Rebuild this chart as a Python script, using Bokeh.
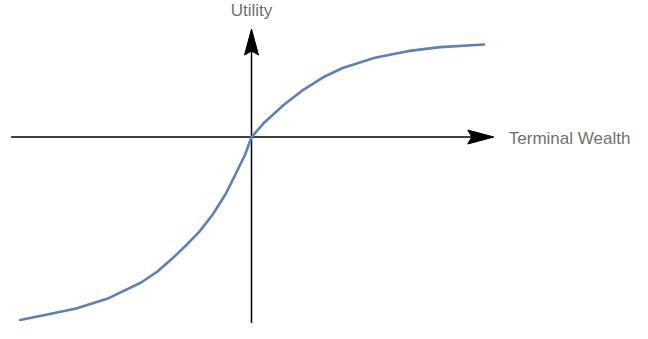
from bokeh.plotting import figure
from bokeh.models import Range1d, Label
from bokeh.embed import file_html
from bokeh.resources import INLINE

# ---- data (wealth, utility) ----
wealth = [-4.942, -4.442, -3.746, -3.052, -2.358, -2.010, -1.663, -1.385, -1.108, -0.829,
          -0.552, -0.344, -0.135, 0.0,
          0.281, 0.698, 1.115, 1.531, 1.948, 2.635, 3.338, 4.031, 4.969]
utility = [-1.968, -1.916, -1.844, -1.733, -1.565, -1.446, -1.293, -1.158, -1.015, -0.834,
           -0.613, -0.403, -0.188, 0.0,
           0.159, 0.349, 0.510, 0.642, 0.742, 0.852, 0.923, 0.966, 0.995]

x_axis_label = "Terminal Wealth"
y_axis_label = "Utility"

# axis extents (data units)
x_axis_start, x_axis_tip = -5.135, 5.177
y_axis_start, y_axis_tip = -2.134, 1.161

# ---- layout ----
FW, FH = 632, 323
OX, OY = 251.0, 136.5     # origin position in figure pixels (from left, from top)
SX, SY = 46.8, 93.0       # pixels per data unit

p = figure(width=FW, height=FH, output_backend="svg", toolbar_location=None,
           x_range=Range1d(-OX / SX, (FW - OX) / SX),
           y_range=Range1d(-(FH - OY) / SY, OY / SY),
           min_border=0, tools="")
p.axis.visible = False
p.grid.visible = False
p.outline_line_color = None
p.background_fill_color = "white"
p.border_fill_color = "white"

AL, AW, AN = 26, 7, 22   # arrow length, half width, notch (pixels)

# horizontal axis
p.line([x_axis_start, x_axis_tip - AN / SX], [0, 0], line_color="black", line_width=1.5)
p.patch([x_axis_tip, x_axis_tip - AL / SX, x_axis_tip - AN / SX, x_axis_tip - AL / SX],
        [0, AW / SY, 0, -AW / SY], fill_color="black", line_color="black", line_width=1)
# vertical axis
p.line([0, 0], [y_axis_start, y_axis_tip - AN / SY], line_color="black", line_width=1.5)
p.patch([0, AW / SX, 0, -AW / SX],
        [y_axis_tip, y_axis_tip - AL / SY, y_axis_tip - AN / SY, y_axis_tip - AL / SY],
        fill_color="black", line_color="black", line_width=1)

# curve
p.line(wealth, utility, line_color="#5E81B5", line_width=2.6, line_join="round", line_cap="round")

# labels
p.add_layout(Label(x=x_axis_tip + 15.0 / SX, y=-1.3 / SY, text=x_axis_label,
                   text_font="Liberation Sans", text_font_size="17px",
                   text_color="#707070", text_baseline="alphabetic", text_align="left"))
p.add_layout(Label(x=0, y=y_axis_tip + 19.0 / SY, text=y_axis_label,
                   text_font="Liberation Sans", text_font_size="17px",
                   text_color="#707070", text_baseline="alphabetic", text_align="center"))

open("out.html", "w").write(file_html(p, INLINE))
